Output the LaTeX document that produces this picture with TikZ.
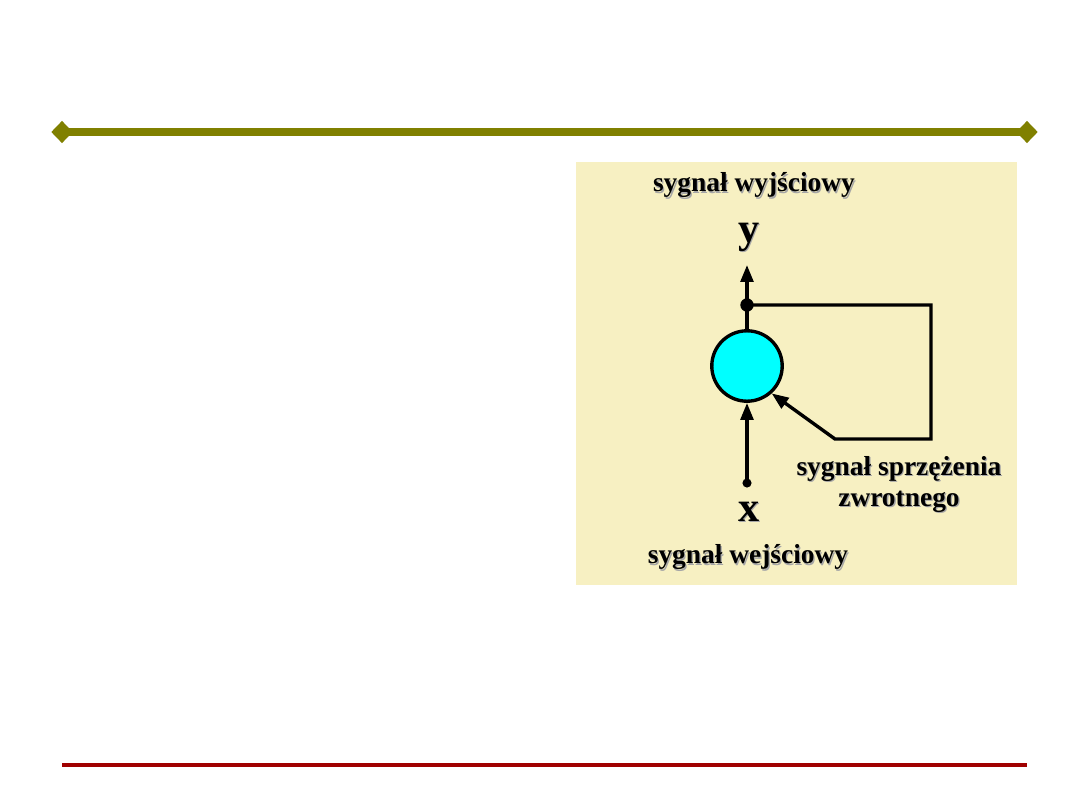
\documentclass[tikz,border=0pt]{standalone}
\usepackage{fontspec}
\setmainfont{Liberation Serif}
\usetikzlibrary{arrows.meta, positioning, shapes.geometric}
\definecolor{olivebar}{HTML}{808000}
\definecolor{footred}{HTML}{A00000}
\definecolor{panelbg}{HTML}{F7F0C2}
\definecolor{neuroncyan}{HTML}{00FFFF}
\newcommand{\shadowed}[1]{\rlap{\kern0.9pt\raisebox{-0.9pt}{\textcolor{black!35}{#1}}}#1}

\begin{document}
\begin{tikzpicture}[
    x=0.025cm, y=-0.025cm,
    neuron/.style={circle, draw=black, line width=2.4pt, fill=neuroncyan,
                   minimum size=1.76cm, inner sep=0pt},
    bigdot/.style={circle, fill=black, inner sep=0pt, minimum size=9.5pt},
    smalldot/.style={circle, fill=black, inner sep=0pt, minimum size=6.5pt},
    label/.style={font=\fontsize{19.5}{22}\selectfont\bfseries, align=center},
    var/.style={font=\fontsize{30}{32}\selectfont\bfseries},
    wire/.style={line width=2.4pt},
    sig/.style={wire, -{Triangle[length=12pt, width=9pt]}},
    diam/.style={diamond, fill=olivebar, inner sep=0pt, minimum width=0.54cm, minimum height=0.56cm},
]
    \useasboundingbox (0,0) rectangle (1080,810);

    % header bar
    \node[diam] (dl) at (62,132) {};
    \node[diam] (dr) at (1027,132) {};
    \draw[olivebar, line width=5pt] (dl.center) -- (dr.center);

    % footer line
    \coordinate (fl) at (62,765);
    \coordinate (fr) at (1027,765);
    \draw[footred, line width=3pt] (fl) -- (fr);

    % panel
    \fill[panelbg] (576,162) rectangle (1017,585);

    % neuron
    \node[neuron] (neuron) at (747,366) {};
    \node[bigdot] (out) at (747,305) {};
    \node[smalldot] (in) at (747,483) {};
    \coordinate (ytip) at (747,265);

    % labels
    \node[label] (outlbl) at (754,186) {\shadowed{sygnał wyjściowy}};
    \node[var] (y) at (749,238) {\shadowed{y}};
    \node[var] (x) at (749,512) {\shadowed{x}};
    \node[label] (fblbl) at (899,485) {\shadowed{sygnał sprzężenia}\\\shadowed{zwrotnego}};
    \node[label] (inlbl) at (748,558) {\shadowed{sygnał wejściowy}};

    % feedback loop
    \coordinate (fb1) at (931,305);
    \coordinate (fb2) at (931,439);
    \coordinate (fb3) at (835,439);

    % signals
    \draw[wire] (neuron.north) -- (out.center);
    \draw[sig] (out.center) -- (ytip);
    \draw[sig] (in.center) -- (neuron.south);
    \draw[sig] (out.center) -- (fb1) -- (fb2) -- (fb3) -- (neuron.-48);

\end{tikzpicture}
\end{document}
